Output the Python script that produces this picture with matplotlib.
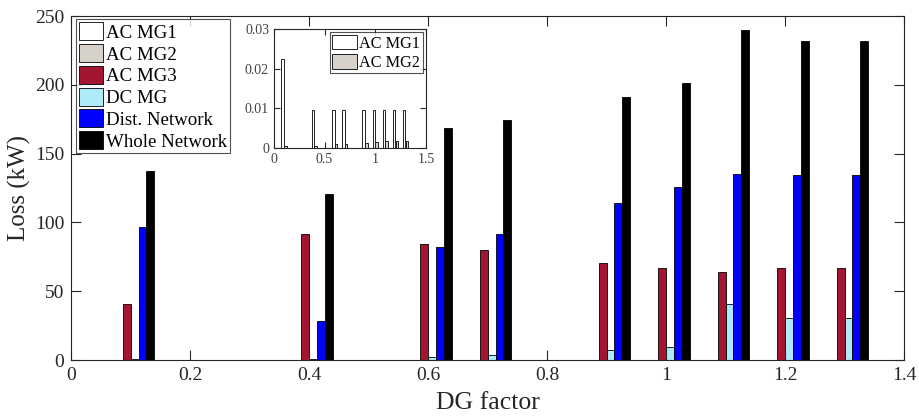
import numpy as np
import matplotlib
matplotlib.use('Agg')
import matplotlib.pyplot as plt

plt.rcParams['font.family'] = ['Liberation Serif', 'DejaVu Serif']

# DG factor values and losses (kW) for each part of the network
dg_factor = [0.1, 0.4, 0.6, 0.7, 0.9, 1.0, 1.1, 1.2, 1.3]
ac_mg1 = [0.0224, 0.0095, 0.0095, 0.0095, 0.0095, 0.0095, 0.0095, 0.0095, 0.0095]
ac_mg2 = [0.0006, 0.0006, 0.0010, 0.0010, 0.0013, 0.0015, 0.0017, 0.0019, 0.0019]
ac_mg3 = [40.4, 91.3, 84.3, 79.7, 70.8, 66.9, 64.3, 67.2, 67.2]
dc_mg = [0.5, 0.4, 2.4, 3.6, 7.2, 9.2, 40.6, 30.4, 30.4]
dist_net = [96.9, 28.5, 82.4, 91.8, 113.8, 126.0, 135.3, 134.8, 134.8]
whole_net = [137.7, 120.3, 168.3, 174.6, 191.0, 201.4, 239.9, 231.9, 231.9]

names = ['AC MG1', 'AC MG2', 'AC MG3', 'DC MG', 'Dist. Network', 'Whole Network']
colors = ['#ffffff', '#d6d2ca', '#a31631', '#aeeaf8', '#0000ff', '#000000']
series = [ac_mg1, ac_mg2, ac_mg3, dc_mg, dist_net, whole_net]

x = np.array(dg_factor)
step = 0.0134
dark = '#262626'

fig = plt.figure(figsize=(9.19, 4.16), dpi=100)
ax = fig.add_axes([0.0773, 0.1346, 0.9064, 0.8269])

for i, (vals, c, n) in enumerate(zip(series, colors, names)):
    ax.bar(x + (i - 2.5) * step, vals, width=step, color=c, edgecolor='black',
           linewidth=0.6, label=n)

ax.set_xlim(0, 1.4)
ax.set_ylim(0, 250)
ax.set_xticks([0, 0.2, 0.4, 0.6, 0.8, 1, 1.2, 1.4])
ax.set_xticklabels(['0', '0.2', '0.4', '0.6', '0.8', '1', '1.2', '1.4'])
ax.set_yticks([0, 50, 100, 150, 200, 250])
ax.tick_params(direction='in', length=7, width=0.8, top=True, right=True,
               labelsize=14, colors=dark, labelcolor=dark, pad=5)
for s in ax.spines.values():
    s.set_color(dark)
    s.set_linewidth(0.8)
ax.set_xlabel('DG factor', fontsize=18.5, color=dark, labelpad=6)
ax.set_ylabel('Loss (kW)', fontsize=18, color=dark, labelpad=3)

leg = ax.legend(loc='upper left', bbox_to_anchor=(0.006, 0.99), fontsize=13.6,
                frameon=True, fancybox=False, edgecolor=dark,
                handlelength=1.3, handleheight=1.1, handletextpad=0.15,
                labelspacing=0.12, borderpad=0.15, borderaxespad=0)
leg.get_frame().set_linewidth(0.8)

# inset with the two small AC microgrid losses
axi = fig.add_axes([0.298, 0.644, 0.1654, 0.286])
axi.bar(x - 0.0135, ac_mg1, width=0.025, color=colors[0], edgecolor='black',
        linewidth=0.6, label='AC MG1')
axi.bar(x + 0.0135, ac_mg2, width=0.025, color=colors[1], edgecolor='black',
        linewidth=0.6, label='AC MG2')
axi.set_xlim(0, 1.5)
axi.set_ylim(0, 0.03)
axi.set_xticks([0, 0.5, 1, 1.5])
axi.set_xticklabels(['0', '0.5', '1', '1.5'])
axi.set_yticks([0, 0.01, 0.02, 0.03])
axi.set_yticklabels(['0', '0.01', '0.02', '0.03'])
axi.tick_params(direction='in', length=4, width=0.8, top=True, right=True,
                labelsize=10, colors=dark, labelcolor='#404040')
for s in axi.spines.values():
    s.set_color(dark)
    s.set_linewidth(0.8)
li = axi.legend(loc='upper right', fontsize=11.7, frameon=True, fancybox=False,
                edgecolor=dark, handlelength=1.5, handleheight=1.0,
                handletextpad=0.15, labelspacing=0.15, borderpad=0.15,
                borderaxespad=0.2)
li.get_frame().set_linewidth(0.8)

fig.savefig('out.png', dpi=100)
